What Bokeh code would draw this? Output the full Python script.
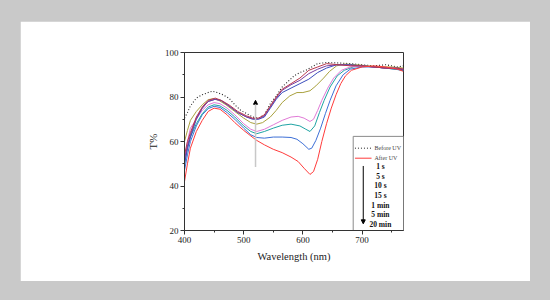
from bokeh.plotting import figure
from bokeh.layouts import column, row
from bokeh.models import FixedTicker, Arrow, NormalHead, Spacer
from bokeh.core.properties import value
from bokeh.embed import file_html
from bokeh.resources import INLINE

# ---- data (wavelength nm, transmittance %) ----
before_wl = [400, 405, 410, 420, 430, 440, 447, 455, 465, 475, 485, 495, 505, 515, 525, 535, 545, 555, 565, 575, 585, 595, 605, 615, 625, 640, 660, 680, 700, 720, 740, 760, 770]
before_t = [70.5, 73, 76, 79.5, 81, 82, 82.6, 82, 81, 79.5, 76.5, 74, 72.5, 71, 70.5, 72, 77, 80.5, 84.5, 87, 89.5, 91, 92, 93.5, 95, 95.5, 95.3, 95, 94.5, 94, 94.5, 93.5, 94]

after_wl = [400, 405, 410, 420, 430, 440, 450, 460, 472, 485, 500, 512, 522, 535, 550, 565, 580, 592, 602, 612, 618, 625, 632, 640, 648, 656, 664, 672, 682, 700, 720, 740, 760, 770]
after_t = [42, 50, 57, 64.5, 69.5, 73.5, 75, 74.5, 72, 68.5, 65, 62.5, 60.5, 58.5, 56.5, 55, 53, 51, 48, 45.2, 46.5, 52, 60, 68, 75, 81, 86, 89.5, 92, 93.5, 94, 93.5, 92.5, 91.5]

s1_wl = [400, 405, 410, 420, 430, 440, 450, 460, 472, 485, 500, 512, 522, 535, 550, 565, 580, 590, 600, 610, 615, 622, 630, 638, 646, 656, 668, 680, 700, 720, 740, 770]
s1_t = [47, 54, 60, 67, 72, 74.8, 75.8, 75.3, 73, 70, 66, 63, 61.8, 61.5, 62, 62, 61.8, 61, 59, 56.5, 57, 60.5, 66, 72.5, 78.5, 85, 90, 92.5, 93.5, 93.5, 93, 92]

s5_wl = [400, 405, 410, 420, 430, 440, 450, 460, 472, 485, 500, 512, 522, 535, 550, 565, 580, 595, 605, 612, 620, 628, 636, 646, 658, 670, 685, 700, 720, 740, 770]
s5_t = [50, 57, 62, 68, 72.5, 75.5, 76.5, 76, 74, 71, 67, 64.5, 63.5, 64.5, 66, 67.3, 67.8, 67, 65.5, 64.5, 67, 73, 78.5, 84.5, 89.5, 92, 93.5, 94, 93.5, 93, 92]

s10_wl = [400, 405, 410, 420, 430, 440, 450, 460, 472, 485, 500, 512, 522, 535, 550, 565, 580, 592, 602, 612, 618, 625, 632, 642, 652, 665, 680, 700, 720, 740, 770]
s10_t = [52, 60, 66, 70, 74, 76.5, 77.5, 77, 75, 72, 68, 65.5, 64.5, 65.5, 67.5, 69.5, 71, 71.3, 70.5, 69, 70, 74, 78.5, 84, 88.5, 92, 93.5, 94, 93.5, 93, 92.5]

s15_wl = [400, 405, 410, 420, 430, 440, 448, 458, 470, 485, 500, 512, 522, 532, 545, 555, 565, 578, 590, 600, 612, 622, 635, 645, 657, 670, 690, 710, 730, 750, 770]
s15_t = [60, 65, 69.5, 73.5, 76.5, 78.8, 79.2, 78.5, 76.5, 73.5, 70.5, 68.5, 67.8, 68.5, 71, 74, 77.5, 80.5, 82, 82, 82.8, 85, 88.5, 91.5, 94, 94.8, 94.5, 94, 93.5, 93.5, 93]

m1_wl = [400, 405, 410, 420, 430, 440, 452, 462, 475, 490, 505, 515, 525, 535, 545, 555, 565, 580, 595, 610, 625, 640, 657, 680, 700, 720, 740, 760, 770]
m1_t = [50, 57, 62, 70, 75, 78, 79, 78.5, 76, 73, 71, 70, 70, 71, 75, 79, 82, 84, 86, 88, 91, 93, 94.5, 94.5, 94, 93.5, 93, 93, 92]

m5_wl = [400, 405, 410, 420, 430, 440, 452, 462, 475, 490, 505, 515, 525, 535, 545, 555, 565, 580, 595, 610, 625, 640, 660, 680, 700, 720, 740, 770]
m5_t = [52, 58, 63, 70.5, 75, 78, 79, 78.3, 76, 73, 71, 70.3, 70.2, 71.5, 75.5, 79.5, 83, 85.5, 87.5, 90.5, 92.5, 94, 94.5, 94.3, 94, 93.5, 93, 92.5]

m20_wl = [400, 405, 410, 420, 430, 440, 452, 462, 475, 490, 505, 515, 525, 535, 545, 555, 565, 580, 595, 610, 625, 640, 660, 680, 700, 720, 740, 760, 770]
m20_t = [54, 60, 64, 71, 75.5, 78.5, 79.5, 78.5, 76.5, 73.5, 71.5, 70.5, 70.5, 72, 76, 80, 83.5, 86, 88.5, 92, 93.5, 95, 94.5, 94, 94, 93.5, 93, 93, 92.5]

time_labels = ["1 s", "5 s", "10 s", "15 s", "1 min", "5 min", "20 min"]
x_ticks = [400, 500, 600, 700]
x_minor = [450, 550, 650, 750]
y_ticks = [20, 40, 60, 80, 100]
y_minor = [30, 50, 70, 90]

# ---- styling / layout constants ----
SERIF = "Liberation Serif"
series = [
    (s1_wl, s1_t, "#3d6fd6"),
    (s5_wl, s5_t, "#1fa3a3"),
    (s10_wl, s10_t, "#e07ad6"),
    (s15_wl, s15_t, "#a9a13e"),
    (m1_wl, m1_t, "#3a4cbc"),
    (m5_wl, m5_t, "#7a3ea0"),
    (m20_wl, m20_t, "#b8384c"),
]

p = figure(width=510, height=260, x_range=(400, 770), y_range=(20, 100),
           output_backend="svg", toolbar_location=None,
           min_border_left=164, min_border_right=127, min_border_top=31, min_border_bottom=51,
           background_fill_color="white", border_fill_color="white")
p.grid.visible = False
p.outline_line_color = "#333333"
p.outline_line_width = 1

p.xaxis.ticker = FixedTicker(ticks=x_ticks, minor_ticks=x_minor)
p.yaxis.ticker = FixedTicker(ticks=y_ticks, minor_ticks=y_minor)
for ax in (p.xaxis[0], p.yaxis[0]):
    ax.axis_line_color = "#333333"
    ax.major_tick_line_color = "#333333"
    ax.minor_tick_line_color = "#333333"
    ax.major_tick_out = 4
    ax.major_tick_in = 0
    ax.minor_tick_out = 2
    ax.minor_tick_in = 0
    ax.major_label_text_font = SERIF
    ax.major_label_text_font_size = "9px"
    ax.major_label_text_color = "#222222"
    ax.axis_label_text_font = SERIF
    ax.axis_label_text_font_style = "normal"
    ax.axis_label_text_color = "#222222"
    ax.major_label_standoff = 2
p.xaxis.axis_label = "Wavelength (nm)"
p.xaxis.axis_label_text_font_size = "10.5px"
p.xaxis.axis_label_standoff = 5
p.yaxis.axis_label = "T%"
p.yaxis.axis_label_text_font_size = "11px"
p.yaxis.axis_label_standoff = 3

# curves
p.line(before_wl, before_t, line_color="#222222", line_width=1.1, line_dash="1 2")
for wl, t, c in series:
    p.line(wl, t, line_color=c, line_width=1)
p.line(after_wl, after_t, line_color="#ff3b3b", line_width=1)

# gray arrow in the plot
p.add_layout(Arrow(end=NormalHead(size=4, fill_color="black", line_color="black"),
                   x_start=520, y_start=48.5, x_end=520, y_end=78.5,
                   line_color="#c8c8c8", line_width=1.5))

# legend box
LEG_L, LEG_R, LEG_B, LEG_T = 685, 770, 20, 62.3
p.quad(left=[LEG_L], right=[LEG_R], bottom=[LEG_B], top=[LEG_T],
       fill_color="white", line_color="#8a8a8a", line_width=1)
p.line([688, 716], [57, 57], line_color="#222222", line_width=1, line_dash="1 2")
p.line([688, 716], [52.5, 52.5], line_color="#ff3b3b", line_width=1)
p.text(x=[721, 721], y=[57, 52.5], text=["Before UV", "After UV"],
       text_font=value(SERIF), text_font_size="6px", text_color="#444444",
       text_baseline="middle", text_align="left")
p.add_layout(Arrow(end=NormalHead(size=4, fill_color="black", line_color="black"),
                   x_start=702, y_start=49, x_end=702, y_end=23,
                   line_color="black", line_width=1))
time_y = [48.7, 44.3, 40.1, 35.7, 31.4, 27.0, 22.6]
p.text(x=[731] * len(time_labels), y=time_y, text=time_labels,
       text_font=value(SERIF), text_font_size="7.5px", text_font_style="bold",
       text_color="#111111", text_baseline="middle", text_align="center")

layout = column(Spacer(width=10, height=21), row(Spacer(width=20, height=10), p))

html = file_html(layout, INLINE)
html = html.replace("</head>", "<style>html, body { background-color: #c9c9c9 !important; margin: 0 !important; }</style></head>", 1)
open("out.html", "w").write(html)
